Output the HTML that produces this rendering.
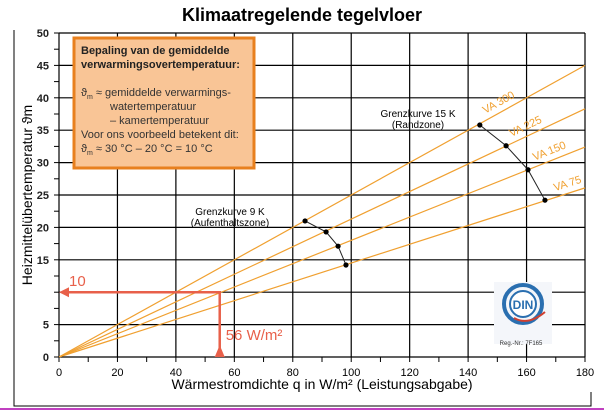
<!DOCTYPE html>
<html><head><meta charset="utf-8"><style>
body{margin:0;background:#fff;font-family:"Liberation Sans",sans-serif}
svg text{font-family:"Liberation Sans",sans-serif}
</style></head><body>
<svg width="604" height="410" viewBox="0 0 604 410" xmlns="http://www.w3.org/2000/svg">
<rect x="0" y="0" width="604" height="410" fill="#fff"/>
<text x="302" y="21" text-anchor="middle" font-size="18" font-weight="bold">Klimaatregelende tegelvloer</text>
<path d="M14 30 V406 H591 V392" fill="none" stroke="#000" stroke-width="1"/>
<line x1="0" y1="409" x2="604" y2="409" stroke="#c040c0" stroke-width="2"/>
<g id="grid"></g>
<g id="lines"></g>
<g id="curves"></g>
<g id="axes"></g>
<g>
<rect x="74" y="38" width="180" height="130" fill="#f9c596" stroke="#e8801e" stroke-width="3"/>
<text x="81" y="54" font-size="11" font-weight="bold" fill="#222">Bepaling van de gemiddelde</text>
<text x="81" y="68" font-size="11" font-weight="bold" fill="#222">verwarmingsovertemperatuur:</text>
<text x="81" y="96" font-size="11" fill="#333">ϑ<tspan font-size="7" dy="3">m</tspan><tspan dy="-3"> ≈  gemiddelde verwarmings-</tspan></text>
<text x="110" y="110" font-size="11" fill="#333">watertemperatuur</text>
<text x="110" y="124" font-size="11" fill="#333">– kamertemperatuur</text>
<text x="81" y="138" font-size="11" fill="#333">Voor ons voorbeeld betekent dit:</text>
<text x="81" y="152" font-size="11" fill="#333">ϑ<tspan font-size="7" dy="3">m</tspan><tspan dy="-3"> ≈ 30 °C – 20 °C = 10 °C</tspan></text>
</g>
<g>
<rect x="494" y="282" width="58" height="62" fill="#f4f6fa"/>
<circle cx="523" cy="304" r="19" fill="none" stroke="#2a6fb0" stroke-width="4"/>
<circle cx="523" cy="304" r="13" fill="#fff" stroke="#2a6fb0" stroke-width="2"/>
<text x="523" y="309" text-anchor="middle" font-size="12" font-weight="bold" fill="#2a6fb0">DIN</text>
<path d="M514 318 Q528 326 545 312" fill="none" stroke="#d04030" stroke-width="2"/>
<text x="521" y="345" text-anchor="middle" font-size="6" fill="#333">Reg.-Nr.: 7F165</text>
</g>
</svg>
<script>
const xTicks=[0,20,40,60,80,100,120,140,160,180];
const yTicks=[0,5,10,15,20,25,30,35,40,45,50];
const yLabels=["0","5","","15","20","25","30","35","40","45","50"];
const vaNames=["VA 300","VA 225","VA 150","VA 75"];
const vaEndY=[45,38.3,32.4,26.1];
const vaLabelQ=[152,161,169,175];
const k15X=[144,153,160.5,166.3];
const k15Y=[35.8,32.6,28.9,24.2];
const k9X=[84.2,91.4,95.5,98.2];
const k9Y=[21,19.3,17.1,14.2];
const exampleQ=[55];
const exampleT=[10];
const NS="http://www.w3.org/2000/svg";
const X0=59,X1=585,Y0=357,Y1=33;
const sx=v=>X0+(v-0)/(180)*(X1-X0);
const sy=v=>Y0-(v/50)*(Y0-Y1);
function mk(tag,attrs,parent){const e=document.createElementNS(NS,tag);for(const k in attrs)e.setAttribute(k,attrs[k]);parent.appendChild(e);return e;}
const grid=document.getElementById('grid'),axes=document.getElementById('axes'),lines=document.getElementById('lines'),curves=document.getElementById('curves');
xTicks.forEach(v=>{const l=mk('line',{x1:sx(v),x2:sx(v),y1:Y1,y2:Y0,stroke:'#000','stroke-width':1.2},grid);


const t=mk('text',{x:sx(v),y:Y0+19,'text-anchor':'middle','font-size':11},axes);t.textContent=v;

});
yTicks.forEach((v,i)=>{const l=mk('line',{x1:X0,x2:X1,y1:sy(v),y2:sy(v),stroke:'#000','stroke-width':1.2},grid);


const t=mk('text',{x:X0-10,y:sy(v)+4,'text-anchor':'end','font-size':11,'font-weight':'bold',fill:'#222'},axes);t.textContent=yLabels[i];

});
for(let v=0;v<=180;v+=10){const l=mk('line',{x1:sx(v),x2:sx(v),y1:Y0,y2:Y0+5,stroke:'#000'},axes);

}
for(let v=0;v<=50;v+=2.5){const l=mk('line',{x1:X0-5,x2:X0,y1:sy(v),y2:sy(v),stroke:'#000'},axes);

}
const xt=mk('text',{x:322,y:389,'text-anchor':'middle','font-size':14},axes);xt.textContent='Wärmestromdichte q in W/m² (Leistungsabgabe)';


const yt=mk('text',{transform:'translate(32,195) rotate(-90)','text-anchor':'middle','font-size':14},axes);yt.textContent='Heizmittelübertemperatur ϑm';


vaNames.forEach((n,i)=>{const l=mk('line',{x1:sx(0),y1:sy(0),x2:sx(180),y2:sy(vaEndY[i]),stroke:'#f0a030','stroke-width':1.2},lines);


const x=vaLabelQ[i];
const ang=-Math.atan((sy(0)-sy(vaEndY[i]))/(sx(180)-sx(0)))*180/Math.PI;
const px=sx(x), py=sy(vaEndY[i]*x/180);
const t=mk('text',{x:px,y:py-6,'text-anchor':'middle','font-size':11,fill:'#f0a030',transform:`rotate(${ang} ${px} ${py})`},lines);t.textContent=n;

});
function curve(X,Y,name,label,lx,ly){let d='M'+X.map((v,i)=>sx(v)+' '+sy(Y[i])).join(' L');
const p=mk('path',{d:d,fill:'none',stroke:'#222','stroke-width':1},curves);


X.forEach((v,i)=>{const c=mk('circle',{cx:sx(v),cy:sy(Y[i]),r:2.6,fill:'#000'},curves);

});
label.forEach((s,j)=>{const t=mk('text',{x:lx,y:ly+j*11,'text-anchor':'middle','font-size':10},curves);t.textContent=s;

});}
curve(k15X,k15Y,'grenzkurve-15k',['Grenzkurve 15 K','(Randzone)'],418,117);
curve(k9X,k9Y,'grenzkurve-9k',['Grenzkurve 9 K','(Aufenthaltszone)'],230,215);
const red='#e8604a';
const qx=sx(exampleQ[0]),ty=sy(exampleT[0]);
const a1=mk('path',{d:`M${qx} ${Y0} V${ty} H${X0+8}`,fill:'none',stroke:red,'stroke-width':2.5},axes);


const h1=mk('path',{d:`M${X0} ${ty} l10 -5 v10 z M${qx} ${Y0-12} l-5 12 h10 z`,fill:red},axes);


const t1=mk('text',{x:69,y:ty-6,'font-size':15,fill:red},axes);t1.textContent=exampleT[0];


const t2=mk('text',{x:qx+6,y:Y0-17,'font-size':15,fill:red},axes);t2.textContent=exampleQ[0]+1+' W/m²';


</script>
</body></html>
